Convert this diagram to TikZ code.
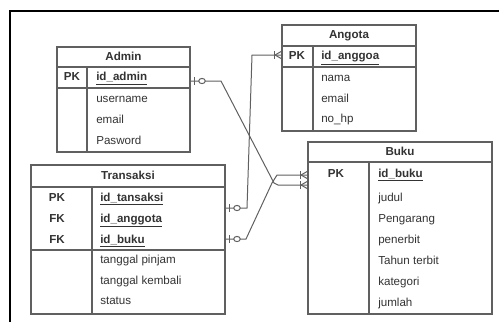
\documentclass[tikz,border=0pt]{standalone}
\usepackage{fontspec}
\setmainfont{Liberation Sans}
\usetikzlibrary{calc,positioning}

\definecolor{tblgray}{HTML}{606060}
\definecolor{txtgray}{HTML}{333333}

\tikzset{
  every node/.style={inner sep=0pt, text=txtgray,
    font=\fontsize{8.7}{10}\selectfont, text height=6.3pt, text depth=1.8pt},
  tbl/.style={draw=tblgray, line width=0.9pt},
  conn/.style={draw=tblgray, line width=0.75pt},
  tname/.style={font=\fontsize{8.7}{10}\selectfont\bfseries},
  keymark/.style={font=\fontsize{8.7}{10}\selectfont\bfseries},
  keyfld/.style={anchor=west, font=\fontsize{8.7}{10}\selectfont\bfseries},
  fld/.style={anchor=west},
  oneopt/.pic={
    \draw[conn] (4,-4) -- (4,4);
    \draw[conn, fill=white] (12,0) ellipse (3.3 and 2.6);
  },
  onemany/.pic={
    \draw[conn] (-8,-4) -- (-8,4);
    \draw[conn] (0,-4) -- (-7,0) -- (0,4);
  }
}

\begin{document}
\begin{tikzpicture}[x=0.75pt,y=-0.75pt]
  \useasboundingbox (0,0) rectangle (499,322);
  % frame
  \draw[line width=1.6pt] (10,322) -- (10,11) -- (499,11);

  % Admin
  \draw[tbl] (57,47) rectangle (190,152);
  \draw[tbl] (57,67) -- (190,67) (57,88) -- (190,88) (87,67) -- (87,152);
  \node[tname] (admin) at (123.5,57) {Admin};
  \node[keymark] (adminpk) at (72,77.5) {PK};
  \node[keyfld] (idadmin) at (96,77.5) {\underline{id\_admin}};
  \foreach \t/\y in {username/99,email/120,Pasword/141}{
    \node[fld] (admin-\t) at (96,\y) {\t};
  }

  % Angota
  \draw[tbl] (282,25) rectangle (416,131);
  \draw[tbl] (282,46) -- (416,46) (282,67) -- (416,67) (313,46) -- (313,131);
  \node[tname] (angota) at (349,35.5) {Angota};
  \node[keymark] (angotapk) at (297,56.5) {PK};
  \node[keyfld] (idanggoa) at (321,56.5) {\underline{id\_anggoa}};
  \foreach \t/\y in {nama/78,email/99,no\_hp/119}{
    \node[fld] at (321,\y) {\t};
  }

  % Transaksi
  \draw[tbl] (31,165) rectangle (225,314);
  \draw[tbl] (31,187) -- (225,187) (31,250) -- (225,250) (92,187) -- (92,314);
  \node[tname] (transaksi) at (128,176) {Transaksi};
  \foreach \k/\n/\t/\y in {PK/tpk/id\_tansaksi/198,FK/tfka/id\_anggota/219,FK/tfkb/id\_buku/240}{
    \node[keymark] (\n) at (57,\y) {\k};
    \node[keyfld] (\n-f) at (100,\y) {\underline{\t}};
  }
  \foreach \t/\y in {tanggal pinjam/260.5,tanggal kembali/281,status/301}{
    \node[fld] at (100,\y) {\t};
  }

  % Buku
  \draw[tbl] (308,142) rectangle (492,314);
  \draw[tbl] (308,162) -- (492,162) (369,162) -- (369,314);
  \node[tname] (buku) at (400,152) {Buku};
  \node[keymark] (bukupk) at (336,174) {PK};
  \node[keyfld] (idbuku) at (378,174) {\underline{id\_buku}};
  \foreach \t/\y in {judul/198,Pengarang/219,penerbit/240,Tahun terbit/261,kategori/282,jumlah/303}{
    \node[fld] at (378,\y) {\t};
  }

  % relation ends
  \coordinate (adminR) at (190,81);
  \coordinate (tpkR) at (225,208);
  \coordinate (tfkbR) at (225,239);
  \coordinate (angotaL) at (282,55);
  \coordinate (bukuLa) at (308,175);
  \coordinate (bukuLb) at (308,185);

  \draw[conn] (adminR) -- ++(31,0) -- (274,183) -- (278,185) -- (bukuLb);
  \draw[conn] (tfkbR) -- ++(21,0) -- (272,183) -- (277,175) -- (bukuLa);
  \draw[conn] (tpkR) -- ++(22,0) -- (252,55) -- (angotaL);

  \foreach \c in {adminR,tpkR,tfkbR}{
    \pic at (\c) {oneopt};
  }
  \foreach \c in {angotaL,bukuLa,bukuLb}{
    \pic at (\c) {onemany};
  }
\end{tikzpicture}
\end{document}
